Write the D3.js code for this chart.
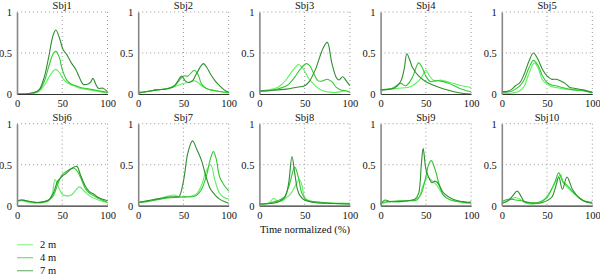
<!DOCTYPE html>
<html lang="en">
<head>
    <meta charset="UTF-8">
    <title>Time normalized curves</title>
    <script src="https://d3js.org/d3.v7.min.js"></script>
    <style>
        body { margin: 0; background: #fff; }
        svg { display: block; }
        svg text { font-family: "Liberation Serif", "DejaVu Serif", serif !important; }
    </style>
</head>
<body>
<svg id="chart" width="600" height="278"></svg>
<script>
    const SUBJECTS = ['Sbj1', 'Sbj2', 'Sbj3', 'Sbj4', 'Sbj5', 'Sbj6', 'Sbj7', 'Sbj8', 'Sbj9', 'Sbj10'];
    const DISTANCES = ['2 m', '4 m', '7 m'];
    const X_TICKS = [0, 50, 100];
    const Y_TICKS = [0, 0.5, 1];
    const Y_TICK_LABELS = ['0', '0.5', '1'];

    // [time %, value] per subject
    const M2 = [
        [[0,0],[10,0],[15,0],[20,0.01],[25,0.04],[30,0.1],[35,0.2],[40,0.28],[43,0.3],[47,0.26],[50,0.2],[55,0.14],[60,0.11],[65,0.09],[70,0.07],[80,0.05],[90,0.03],[100,0.01]],
        [[0,0.01],[10,0.03],[20,0.05],[30,0.06],[40,0.09],[45,0.11],[50,0.13],[55,0.14],[60,0.16],[65,0.15],[70,0.1],[75,0.07],[80,0.05],[90,0.03],[100,0.01]],
        [[0,0.04],[10,0.05],[20,0.08],[25,0.12],[30,0.18],[35,0.26],[40,0.33],[43,0.36],[46,0.34],[50,0.28],[55,0.18],[60,0.12],[65,0.07],[70,0.04],[80,0.02],[85,0.02],[90,0.03],[95,0.04],[100,0.03]],
        [[0,0.05],[10,0.06],[20,0.07],[30,0.08],[35,0.1],[40,0.14],[45,0.2],[50,0.29],[54,0.22],[58,0.17],[62,0.16],[66,0.17],[70,0.16],[80,0.13],[90,0.1],[100,0.08]],
        [[0,0.0],[10,0.01],[15,0.02],[20,0.04],[25,0.1],[30,0.25],[36,0.38],[40,0.32],[45,0.17],[50,0.12],[55,0.09],[60,0.08],[70,0.06],[80,0.05],[90,0.04],[100,0.01]],
        [[0,0.05],[5,0.06],[10,0.05],[20,0.03],[30,0.04],[35,0.06],[39,0.15],[42,0.32],[45,0.25],[50,0.14],[55,0.12],[60,0.13],[65,0.19],[69,0.23],[75,0.17],[80,0.12],[90,0.07],[100,0.04]],
        [[0,0.04],[10,0.06],[20,0.08],[25,0.09],[30,0.11],[35,0.12],[40,0.13],[45,0.11],[50,0.1],[55,0.11],[60,0.12],[65,0.15],[70,0.25],[75,0.42],[80,0.5],[85,0.3],[90,0.15],[95,0.1],[100,0.08]],
        [[0,0.02],[10,0.03],[16,0.09],[20,0.05],[25,0.06],[30,0.1],[35,0.15],[40,0.25],[44,0.32],[47,0.25],[50,0.1],[55,0.06],[65,0.04],[100,0.03]],
        [[0,0.01],[8,0.05],[15,0.05],[25,0.05],[35,0.07],[42,0.1],[47,0.25],[52,0.35],[57,0.3],[62,0.25],[68,0.15],[75,0.08],[85,0.05],[95,0.03],[100,0.05]],
        [[0,0.03],[5,0.05],[10,0.08],[15,0.1],[20,0.08],[25,0.04],[35,0.02],[45,0.05],[52,0.15],[56,0.22],[60,0.3],[65,0.38],[68,0.28],[75,0.2],[85,0.1],[95,0.04],[100,0.05]]
    ];

    const M4 = [
        [[0,0],[10,0],[15,0.01],[20,0.02],[25,0.05],[30,0.15],[35,0.33],[40,0.49],[43,0.52],[47,0.44],[50,0.3],[55,0.17],[60,0.12],[65,0.1],[70,0.08],[80,0.06],[90,0.04],[100,0.02]],
        [[0,0.01],[10,0.03],[20,0.05],[30,0.06],[40,0.1],[45,0.16],[50,0.22],[55,0.22],[62,0.29],[66,0.24],[70,0.12],[75,0.07],[80,0.05],[90,0.03],[100,0.02]],
        [[0,0.03],[10,0.04],[20,0.06],[30,0.1],[35,0.15],[40,0.22],[45,0.3],[52,0.37],[56,0.34],[60,0.25],[65,0.16],[70,0.16],[75,0.18],[80,0.15],[85,0.08],[90,0.05],[95,0.04],[100,0.02]],
        [[0,0.05],[10,0.06],[16,0.09],[22,0.13],[28,0.1],[35,0.2],[42,0.38],[46,0.32],[50,0.22],[55,0.15],[60,0.16],[65,0.16],[75,0.13],[85,0.08],[95,0.04],[100,0.03]],
        [[0,0.02],[10,0.03],[15,0.06],[20,0.1],[25,0.18],[30,0.32],[35,0.41],[40,0.35],[45,0.22],[50,0.14],[55,0.11],[60,0.1],[70,0.07],[80,0.05],[90,0.04],[100,0.02]],
        [[0,0.06],[5,0.07],[10,0.06],[20,0.04],[30,0.05],[35,0.07],[40,0.12],[45,0.26],[50,0.38],[55,0.42],[62,0.46],[66,0.43],[70,0.35],[75,0.22],[80,0.15],[85,0.12],[90,0.09],[100,0.04]],
        [[0,0.04],[10,0.05],[20,0.07],[30,0.09],[40,0.1],[50,0.11],[60,0.11],[65,0.13],[70,0.2],[75,0.35],[80,0.58],[83,0.66],[86,0.58],[90,0.35],[95,0.25],[100,0.18]],
        [[0,0.02],[10,0.03],[20,0.06],[27,0.1],[33,0.25],[39,0.47],[43,0.35],[47,0.15],[52,0.07],[60,0.05],[80,0.03],[100,0.02]],
        [[0,0.04],[10,0.05],[20,0.06],[30,0.06],[40,0.07],[45,0.15],[50,0.35],[53,0.5],[56,0.55],[60,0.45],[65,0.25],[70,0.12],[80,0.06],[90,0.05],[100,0.04]],
        [[0,0.05],[8,0.08],[15,0.07],[22,0.06],[30,0.04],[40,0.04],[50,0.1],[55,0.2],[59,0.3],[63,0.4],[67,0.3],[72,0.25],[80,0.15],[90,0.06],[95,0.05],[100,0.03]]
    ];

    const M7 = [
        [[0,0],[10,0],[15,0.01],[20,0.02],[25,0.06],[30,0.2],[35,0.45],[40,0.72],[43,0.78],[47,0.68],[51,0.54],[55,0.48],[60,0.38],[65,0.3],[69,0.2],[73,0.12],[78,0.12],[81,0.14],[84,0.19],[87,0.12],[90,0.07],[95,0.07],[100,0.03]],
        [[0,0.02],[10,0.03],[20,0.05],[30,0.06],[35,0.07],[40,0.1],[45,0.18],[48,0.22],[52,0.16],[56,0.14],[60,0.16],[65,0.26],[72,0.37],[76,0.32],[80,0.24],[85,0.16],[90,0.1],[95,0.05],[100,0.02]],
        [[0,0.04],[10,0.04],[20,0.05],[30,0.06],[40,0.08],[50,0.1],[55,0.15],[62,0.3],[70,0.55],[75,0.63],[80,0.38],[85,0.2],[88,0.17],[92,0.21],[96,0.16],[100,0.1]],
        [[0,0.05],[10,0.06],[15,0.07],[22,0.15],[26,0.3],[29,0.49],[32,0.42],[35,0.33],[42,0.22],[50,0.15],[60,0.1],[70,0.06],[80,0.03],[90,0.01],[100,0.0]],
        [[0,0.03],[5,0.03],[10,0.05],[15,0.1],[20,0.14],[25,0.25],[30,0.4],[35,0.5],[40,0.42],[45,0.3],[50,0.22],[55,0.18],[60,0.18],[65,0.16],[70,0.13],[75,0.08],[80,0.07],[90,0.05],[100,0.02]],
        [[0,0.06],[5,0.07],[10,0.06],[20,0.04],[30,0.05],[35,0.07],[40,0.15],[45,0.3],[50,0.36],[55,0.4],[60,0.45],[66,0.48],[70,0.38],[75,0.25],[80,0.17],[85,0.14],[90,0.1],[100,0.06]],
        [[0,0.04],[10,0.06],[20,0.08],[30,0.1],[40,0.11],[45,0.11],[50,0.3],[55,0.65],[60,0.79],[65,0.68],[70,0.55],[75,0.35],[80,0.2],[85,0.13],[90,0.08],[95,0.05],[100,0.03]],
        [[0,0.02],[15,0.03],[22,0.05],[28,0.1],[32,0.25],[36,0.6],[39,0.4],[42,0.2],[45,0.12],[50,0.07],[60,0.04],[75,0.03],[100,0.02]],
        [[0,0.02],[5,0.07],[10,0.05],[20,0.05],[30,0.06],[38,0.08],[42,0.15],[45,0.5],[47,0.7],[50,0.45],[53,0.35],[57,0.28],[60,0.3],[63,0.28],[70,0.15],[80,0.08],[90,0.05],[100,0.03]],
        [[0,0.03],[7,0.06],[12,0.12],[17,0.18],[21,0.12],[25,0.05],[35,0.03],[45,0.04],[55,0.1],[60,0.25],[63,0.35],[67,0.2],[72,0.35],[78,0.2],[85,0.1],[92,0.05],[100,0.03]]
    ];

    const SERIES = [M2, M4, M7];
    const COLORS = ['#5ff05f', '#33c833', '#2f8f2f'];

    const svg = d3.select('#chart');

    const panelW = 90.5, panelH = 82;
    const cols = 5;
    const left0 = 17, colStep = 121.2;
    const top0 = 12, rowStep = 111.7;

    const x = d3.scaleLinear().domain([0, 100]).range([0, panelW]);
    const y = d3.scaleLinear().domain([0, 1]).range([panelH, 0]);

    const line = d3.line()
        .x(d => x(d[0]))
        .y(d => y(d[1]))
        .curve(d3.curveCatmullRom.alpha(0.5));

    SUBJECTS.forEach((name, i) => {
        const col = i % cols, row = Math.floor(i / cols);
        const g = svg.append('g')
            .attr('transform', 'translate(' + (left0 + col * colStep) + ',' + (top0 + row * rowStep) + ')');

        // dotted grid
        g.selectAll('.gx').data([50, 100]).enter().append('line')
            .attr('x1', d => x(d)).attr('x2', d => x(d))
            .attr('y1', 0).attr('y2', panelH)
            .attr('stroke', '#999').attr('stroke-width', 1).attr('stroke-dasharray', '1,3');
        g.selectAll('.gy').data([0.5, 1]).enter().append('line')
            .attr('x1', 0).attr('x2', panelW)
            .attr('y1', d => y(d)).attr('y2', d => y(d))
            .attr('stroke', '#999').attr('stroke-width', 1).attr('stroke-dasharray', '1,3');

        // curves
        SERIES.forEach((s, k) => {
            g.append('path')
                .datum(s[i])
                .attr('d', line)
                .attr('fill', 'none')
                .attr('stroke', COLORS[k])
                .attr('stroke-width', 1.1);
        });

        // axes
        const xAxis = g.append('g')
            .attr('transform', 'translate(0,' + panelH + ')')
            .call(d3.axisBottom(x).tickValues(X_TICKS).tickSize(0).tickPadding(6));
        xAxis.select('.domain').attr('stroke', '#333').attr('stroke-width', 1.2);
        xAxis.selectAll('text').attr('font-size', 10.5).attr('fill', '#111');

        const yAxis = g.append('g')
            .call(d3.axisLeft(y).tickValues(Y_TICKS).tickSize(0).tickPadding(5)
                .tickFormat((d, j) => Y_TICK_LABELS[j]));
        yAxis.select('.domain').attr('stroke', '#888').attr('stroke-width', 1.6);
        yAxis.selectAll('text').attr('font-size', 10.5).attr('fill', '#111');

        g.append('text')
            .attr('x', panelW / 2).attr('y', -3)
            .attr('text-anchor', 'middle')
            .attr('font-size', 10.5).attr('fill', '#111')
            .text(name);
    });

    // x axis title
    svg.append('text')
        .attr('x', 305).attr('y', 232.5)
        .attr('text-anchor', 'middle')
        .attr('font-size', 10.5).attr('fill', '#111')
        .text('Time normalized (%)');

    // legend
    const legend = svg.append('g').attr('transform', 'translate(17,244.7)');
    DISTANCES.forEach((d, k) => {
        legend.append('line')
            .attr('x1', 0).attr('x2', 16)
            .attr('y1', k * 13).attr('y2', k * 13)
            .attr('stroke', COLORS[k]).attr('stroke-width', 1.2).attr('opacity', 0.65);
        legend.append('text')
            .attr('x', 23).attr('y', k * 13 + 3.5)
            .attr('font-size', 10.5).attr('fill', '#111')
            .text(d);
    });
</script>
</body>
</html>
